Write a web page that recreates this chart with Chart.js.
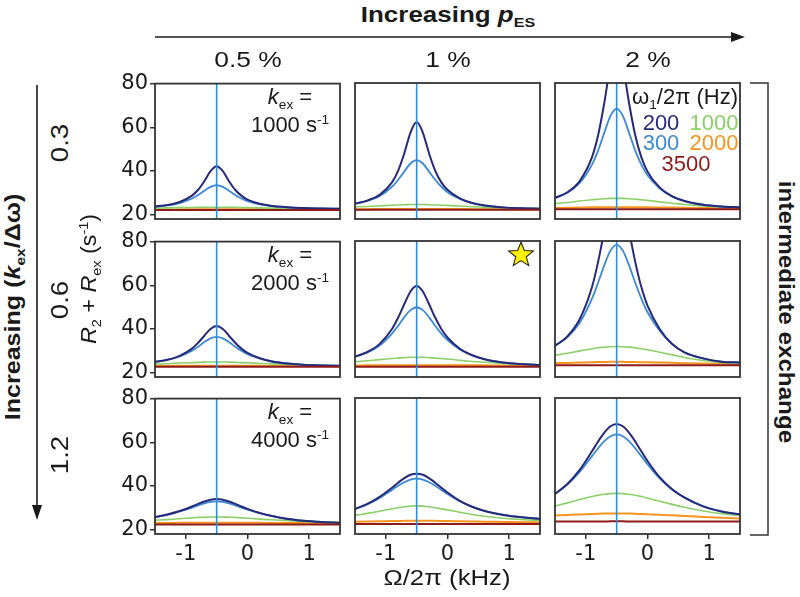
<!DOCTYPE html>
<html>
<head>
<meta charset="utf-8">
<script src="https://cdn.jsdelivr.net/npm/chart.js@4.4.1/dist/chart.umd.min.js"></script>
<style>
  body { margin: 0; background: #fff; }
  #fig { position: relative; width: 800px; height: 597px; overflow: hidden;
         font-family: "Liberation Sans", Arial, Helvetica, sans-serif; color: #1a1a1a; }
  #fig canvas { position: absolute; }
  .t { position: absolute; white-space: nowrap; font-size: 22px; line-height: 1; }
  .b { font-weight: bold; }
  sub, sup { font-size: 62%; line-height: 0; }
  svg { position: absolute; left: 0; top: 0; }
</style>
</head>
<body>
<div id="fig">
  <svg width="800" height="597">
    <line x1="155" y1="37" x2="733" y2="37" stroke="#1a1a1a" stroke-width="1.6"/>
    <polygon points="745,37 731,32 731,42" fill="#1a1a1a"/>
    <line x1="37" y1="85" x2="37" y2="506" stroke="#1a1a1a" stroke-width="1.6"/>
    <polygon points="37,520 32,505 42,505" fill="#1a1a1a"/>
    <polyline points="750,83 768,83 768,535 750,535" fill="none" stroke="#333" stroke-width="1.5"/>
    <polygon points="521,242 524.3,250.5 533.4,251 526.3,256.8 528.7,265.6 521,260.6 513.3,265.6 515.7,256.8 508.6,251 517.7,250.5"
             fill="#fff200" stroke="#222" stroke-width="1.1"/>
  </svg>
</div>
<script>
// ---------- Data ----------
const omega = [-1.5, -1.3, -1.1, -0.9, -0.8, -0.7, -0.6, -0.5, -0.4, -0.3, -0.2, -0.1, 0, 0.2, 0.4, 0.6, 0.9, 1.2, 1.5]; // kHz
const esShift = -0.5;
const yRange = [18, 80];
const xRange = [-1.5, 1.5];
const xTicks = [-1, 0, 1];
const yTicks = [20, 40, 60, 80];
const fieldsHz = ['200', '300', '1000', '2000', '3500'];
const pES = ['0.5 %', '1 %', '2 %'];
const kexOverDw = ['0.3', '0.6', '1.2'];
const kexValues = ['1000', '2000', '4000'];

// R2 + Rex (s-1): [row = kex][col = pES][point at omega]
const r200 = [
  [[23.7, 24.4, 25.8, 28.7, 31.4, 35.3, 39.9, 42.2, 39.9, 35.3, 31.4, 28.7, 26.9, 25.0, 24.0, 23.5, 23.0, 22.8, 22.7],
   [25.0, 26.4, 29.0, 34.7, 40.1, 48.0, 57.4, 62.2, 57.4, 48.0, 40.1, 34.7, 31.3, 27.4, 25.3, 24.2, 23.3, 22.9, 22.7],
   [27.6, 30.2, 35.3, 46.2, 56.3, 71.0, 88.1, 96.8, 88.1, 71.0, 56.3, 46.2, 39.6, 32.3, 28.3, 26.2, 24.5, 23.7, 23.3]],
  [[24.9, 25.9, 27.7, 31.0, 33.7, 36.9, 40.0, 41.3, 40.0, 36.9, 33.7, 31.0, 29.1, 26.6, 25.1, 24.3, 23.6, 23.3, 23.1],
   [27.3, 29.4, 33.1, 39.9, 45.1, 51.3, 57.0, 59.5, 57.0, 51.3, 45.1, 39.9, 36.0, 30.9, 27.9, 26.1, 24.6, 23.9, 23.5],
   [32.2, 36.5, 44.3, 59.0, 70.6, 84.7, 98.1, 104.0, 98.1, 84.7, 70.6, 59.0, 50.5, 39.8, 33.0, 29.2, 26.5, 25.0, 24.6]],
  [[25.8, 26.9, 28.5, 30.6, 31.8, 32.9, 33.7, 34.0, 33.7, 32.9, 31.8, 30.6, 29.5, 27.6, 26.2, 25.1, 24.1, 23.5, 23.1],
   [29.4, 31.7, 34.9, 39.1, 41.4, 43.5, 45.0, 45.5, 45.0, 43.5, 41.4, 39.1, 36.9, 33.1, 30.4, 28.5, 26.7, 25.6, 24.9],
   [36.3, 40.8, 47.2, 55.7, 60.2, 64.2, 67.1, 68.2, 67.1, 64.2, 60.2, 55.7, 51.3, 43.8, 38.4, 34.6, 30.6, 28.3, 26.9]]
];
const r300 = [
  [[23.6, 24.2, 25.3, 27.4, 29.0, 30.9, 32.7, 33.5, 32.7, 30.9, 29.0, 27.4, 26.2, 24.7, 23.9, 23.4, 23.0, 22.8, 22.7],
   [25.0, 26.3, 28.5, 32.7, 35.9, 39.7, 43.3, 44.8, 43.3, 39.7, 35.9, 32.7, 30.2, 27.2, 25.2, 24.2, 23.3, 22.9, 22.7],
   [27.6, 30.0, 34.4, 42.8, 49.3, 57.4, 65.0, 68.3, 65.0, 57.4, 49.3, 42.8, 37.9, 31.9, 28.3, 26.2, 24.5, 23.7, 23.3]],
  [[24.9, 25.8, 27.4, 30.0, 31.9, 34.0, 35.7, 36.4, 35.7, 34.0, 31.9, 30.0, 28.5, 26.5, 25.1, 24.3, 23.6, 23.3, 23.1],
   [27.3, 29.2, 32.4, 37.8, 41.4, 45.3, 48.5, 49.8, 48.5, 45.3, 41.4, 37.8, 34.8, 30.6, 27.9, 26.1, 24.6, 23.9, 23.5],
   [32.2, 36.1, 42.7, 53.7, 61.1, 69.0, 75.6, 78.2, 75.6, 69.0, 61.1, 53.7, 47.5, 39.0, 33.0, 29.2, 26.5, 25.0, 24.6]],
  [[25.8, 26.8, 28.3, 30.1, 31.1, 32.0, 32.7, 32.9, 32.7, 32.0, 31.1, 30.1, 29.1, 27.5, 26.2, 25.1, 24.1, 23.5, 23.1],
   [29.4, 31.5, 34.4, 38.1, 40.0, 41.6, 42.8, 43.2, 42.8, 41.6, 40.0, 38.1, 36.2, 32.9, 30.4, 28.6, 26.8, 25.7, 25.0],
   [36.3, 40.5, 46.3, 53.5, 57.1, 60.3, 62.6, 63.4, 62.6, 60.3, 57.1, 53.5, 49.8, 43.2, 38.2, 34.7, 30.7, 28.3, 26.9]]
];
const r1000 = [
  [[23.0, 23.1, 23.2, 23.3, 23.35, 23.4, 23.4, 23.4, 23.4, 23.4, 23.35, 23.3, 23.2, 23.1, 23.0, 22.9, 22.7, 22.6, 22.5],
   [23.5, 23.7, 24.0, 24.3, 24.4, 24.5, 24.6, 24.6, 24.6, 24.5, 24.4, 24.3, 24.2, 23.9, 23.6, 23.4, 23.1, 22.9, 22.8],
   [25.0, 25.5, 26.2, 26.8, 27.0, 27.2, 27.4, 27.4, 27.4, 27.2, 27.0, 26.8, 26.5, 25.8, 25.2, 24.6, 23.9, 23.4, 23.1]],
  [[23.9, 24.1, 24.4, 24.6, 24.7, 24.8, 24.9, 24.9, 24.9, 24.8, 24.7, 24.6, 24.5, 24.2, 24.0, 23.8, 23.5, 23.4, 23.2],
   [24.9, 25.4, 25.9, 26.4, 26.6, 26.8, 27.0, 27.0, 27.0, 26.8, 26.6, 26.4, 26.2, 25.6, 25.1, 24.7, 24.2, 23.9, 23.6],
   [27.9, 28.8, 29.9, 30.9, 31.3, 31.6, 31.8, 31.9, 31.8, 31.6, 31.3, 30.9, 30.4, 29.3, 28.1, 26.9, 25.5, 24.6, 24.1]],
  [[24.3, 24.6, 25.0, 25.4, 25.6, 25.7, 25.8, 25.8, 25.8, 25.7, 25.6, 25.4, 25.2, 24.8, 24.5, 24.2, 23.8, 23.6, 23.4],
   [26.5, 27.4, 28.4, 29.5, 30.0, 30.4, 30.7, 30.8, 30.7, 30.4, 30.0, 29.5, 29.0, 27.9, 26.9, 26.1, 25.2, 24.6, 24.2],
   [30.8, 32.2, 33.7, 35.1, 35.7, 36.1, 36.4, 36.5, 36.4, 36.1, 35.7, 35.1, 34.4, 32.9, 31.5, 30.2, 28.5, 27.3, 26.4]]
];
const r2000 = [
  [[22.4, 22.4, 22.4, 22.5, 22.5, 22.5, 22.5, 22.5, 22.5, 22.5, 22.5, 22.5, 22.5, 22.5, 22.4, 22.4, 22.4, 22.4, 22.4],
   [22.5, 22.5, 22.6, 22.6, 22.6, 22.6, 22.6, 22.6, 22.6, 22.6, 22.6, 22.6, 22.6, 22.6, 22.5, 22.5, 22.5, 22.4, 22.4],
   [23.0, 23.1, 23.2, 23.3, 23.3, 23.3, 23.3, 23.3, 23.3, 23.3, 23.3, 23.3, 23.3, 23.2, 23.2, 23.1, 23.0, 22.9, 22.9]],
  [[23.0, 23.0, 23.1, 23.1, 23.1, 23.1, 23.1, 23.1, 23.1, 23.1, 23.1, 23.1, 23.1, 23.1, 23.0, 23.0, 23.0, 23.0, 22.9],
   [23.2, 23.3, 23.3, 23.4, 23.4, 23.4, 23.4, 23.4, 23.4, 23.4, 23.4, 23.4, 23.4, 23.4, 23.3, 23.3, 23.2, 23.2, 23.1],
   [24.3, 24.4, 24.6, 24.7, 24.8, 24.8, 24.9, 24.9, 24.9, 24.8, 24.8, 24.7, 24.7, 24.6, 24.5, 24.3, 24.1, 24.0, 23.8]],
  [[23.0, 23.0, 23.1, 23.1, 23.1, 23.1, 23.1, 23.1, 23.1, 23.1, 23.1, 23.1, 23.1, 23.1, 23.0, 23.0, 23.0, 22.9, 22.9],
   [23.6, 23.7, 23.8, 23.9, 23.9, 24.0, 24.0, 24.0, 24.0, 24.0, 24.0, 23.9, 23.9, 23.8, 23.7, 23.6, 23.5, 23.4, 23.3],
   [26.4, 26.7, 26.9, 27.1, 27.2, 27.3, 27.4, 27.4, 27.4, 27.3, 27.2, 27.1, 27.0, 26.8, 26.5, 26.2, 25.8, 25.4, 25.1]]
];
const r3500 = [
  [[22.1, 22.1, 22.1, 22.1, 22.1, 22.1, 22.1, 22.1, 22.1, 22.1, 22.1, 22.1, 22.1, 22.1, 22.1, 22.1, 22.1, 22.1, 22.1],
   [22.2, 22.2, 22.2, 22.2, 22.2, 22.2, 22.2, 22.2, 22.2, 22.2, 22.2, 22.2, 22.2, 22.2, 22.2, 22.2, 22.2, 22.2, 22.2],
   [22.4, 22.4, 22.4, 22.4, 22.4, 22.4, 22.4, 22.4, 22.4, 22.4, 22.4, 22.4, 22.4, 22.4, 22.4, 22.4, 22.4, 22.4, 22.4]],
  [[22.7, 22.7, 22.7, 22.7, 22.7, 22.7, 22.7, 22.7, 22.7, 22.7, 22.7, 22.7, 22.7, 22.7, 22.7, 22.7, 22.7, 22.7, 22.7],
   [22.7, 22.7, 22.7, 22.7, 22.7, 22.7, 22.7, 22.7, 22.7, 22.7, 22.7, 22.7, 22.7, 22.7, 22.7, 22.7, 22.7, 22.7, 22.7],
   [23.3, 23.3, 23.3, 23.3, 23.3, 23.3, 23.3, 23.3, 23.3, 23.3, 23.3, 23.3, 23.3, 23.3, 23.3, 23.3, 23.3, 23.3, 23.3]],
  [[22.4, 22.4, 22.4, 22.4, 22.4, 22.4, 22.4, 22.4, 22.4, 22.4, 22.4, 22.4, 22.4, 22.4, 22.4, 22.4, 22.4, 22.4, 22.4],
   [22.6, 22.6, 22.6, 22.6, 22.6, 22.6, 22.6, 22.6, 22.6, 22.6, 22.6, 22.6, 22.6, 22.6, 22.6, 22.6, 22.6, 22.6, 22.6],
   [23.7, 23.7, 23.7, 23.7, 23.7, 23.7, 23.8, 23.8, 23.8, 23.7, 23.7, 23.7, 23.7, 23.7, 23.7, 23.7, 23.7, 23.7, 23.7]]
];

// ---------- Style / layout ----------
const FONT = '"Liberation Sans", Arial, Helvetica, sans-serif';
const TICK_FONT = '"DejaVu Sans", "Liberation Sans", Arial, sans-serif';
const INK = '#1a1a1a';
const colors = { '200': '#272a79', '300': '#3b88d4', '1000': '#8ccf68', '2000': '#f7941e', '3500': '#8e1b1b' };
const vlineColor = '#2b8fd6';
// draw order: first dataset ends up on top
const series = [
  { hz: '3500', data: r3500, width: 2 },
  { hz: '200', data: r200, width: 2 },
  { hz: '300', data: r300, width: 1.8 },
  { hz: '1000', data: r1000, width: 1.6 },
  { hz: '2000', data: r2000, width: 2 },
];
const colLeft = [155, 355, 555], rowTop = [83, 241, 398];
const PW = 185, PH = 136, ML = 50, MT = 14, MR = 6, MB = 34;

const fig = document.getElementById('fig');
// text centred on (x, y); rot = -90 / 90 for vertical text, sx stretches along the text
const $t = (html, x, y, { cls = '', rot = 0, sx = 1, size = 22, align = 'c', style = '' } = {}) => {
  const d = document.createElement('div');
  d.className = 't ' + cls; d.innerHTML = html;
  const tx = align === 'r' ? '-100%' : '-50%';
  d.style.cssText = `left:${x}px;top:${y}px;font-size:${size}px;transform-origin:${align === 'r' ? '100% 50%' : '50% 50%'};` +
    `transform:translate(${tx},-50%) rotate(${rot}deg) scaleX(${sx});${style}`;
  fig.append(d); return d;
};

const frame = {
  id: 'frame',
  afterDatasetsDraw(c) {
    const { ctx, chartArea: a } = c;
    ctx.save(); ctx.strokeStyle = '#333'; ctx.lineWidth = 1.8;
    ctx.strokeRect(a.left, a.top, a.right - a.left, a.bottom - a.top);
    ctx.restore();
  }
};

// ---------- Panels ----------
rowTop.forEach((top, r) => colLeft.forEach((left, c) => {
  const cv = document.createElement('canvas');
  cv.width = ML + PW + MR; cv.height = MT + PH + MB;
  cv.style.left = (left - ML) + 'px'; cv.style.top = (top - MT) + 'px';
  fig.append(cv);

  const pts = arr => omega.map((x, i) => ({ x, y: arr[i] }));
  const datasets = [{ data: [{ x: esShift, y: yRange[0] }, { x: esShift, y: yRange[1] }], borderColor: vlineColor, borderWidth: 1.6 }]
    .concat(series.map(s => ({ data: pts(s.data[r][c]), borderColor: colors[s.hz], borderWidth: s.width, cubicInterpolationMode: 'monotone' })));

  const showX = r === 2, showY = c === 0;
  new Chart(cv, {
    type: 'line',
    data: { datasets },
    plugins: [frame],
    options: {
      responsive: false, animation: false, events: [],
      layout: { padding: { top: MT, right: MR, left: 0, bottom: 0 } },
      elements: { point: { radius: 0 } },
      plugins: { legend: { display: false }, tooltip: { enabled: false } },
      scales: {
        x: {
          type: 'linear', min: xRange[0], max: xRange[1],
          afterBuildTicks: s => { s.ticks = xTicks.map(v => ({ value: v })); },
          afterFit: s => { s.height = MB; },
          ticks: { display: showX, autoSkip: false, maxRotation: 0, padding: 3, color: INK, font: { family: TICK_FONT, size: 21 } },
          grid: { display: showX, drawOnChartArea: false, tickLength: 5, color: '#333', lineWidth: 1.5 },
          border: { display: false }
        },
        y: {
          type: 'linear', min: yRange[0], max: yRange[1],
          afterBuildTicks: s => { s.ticks = yTicks.map(v => ({ value: v })); },
          afterFit: s => { s.width = ML; },
          ticks: { display: showY, autoSkip: false, padding: 2, color: INK, font: { family: TICK_FONT, size: 21 } },
          grid: { display: showY, drawOnChartArea: false, tickLength: 5, color: '#333', lineWidth: 1.5 },
          border: { display: false }
        }
      }
    }
  });
}));

// ---------- Text ----------
$t('Increasing <i>p</i><sub>ES</sub>', 448, 15, { cls: 'b', sx: 1.18 });
pES.forEach((p, c) => $t(p, colLeft[c] + PW / 2, 60, { sx: 1.2 }));
$t('Increasing (<i>k</i><sub>ex</sub>/Δω)', 13, 307, { cls: 'b', rot: -90, sx: 1.14 });
kexOverDw.forEach((k, r) => $t(k, 60, [143, 300, 455][r], { rot: -90, size: 24, sx: 1.15 }));
$t('<i>R</i><sub>2</sub> + <i>R</i><sub>ex</sub> (s<sup>-1</sup>)', 89, 279, { rot: -90, sx: 1.06 });
$t('Ω/2π (kHz)', 447, 578, { sx: 1.17 });
$t('intermediate exchange', 786, 312, { cls: 'b', rot: 90, sx: 1.1 });
kexValues.forEach((k, r) => {
  $t('<i>k</i><sub>ex</sub> =', 290, rowTop[r] + 14);
  $t(`${k} s<sup>-1</sup>`, 290, rowTop[r] + 42);
});
// legend (ω1/2π) in the top-right panel
$t('ω<sub>1</sub>/2π (Hz)', 738, 97, { align: 'r' });
$t(fieldsHz[0], 661, 123, { style: `color:${colors['200']}` });
$t(fieldsHz[2], 714, 123, { style: `color:${colors['1000']}` });
$t(fieldsHz[1], 661, 143, { style: `color:${colors['300']}` });
$t(fieldsHz[3], 714, 143, { style: `color:${colors['2000']}` });
$t(fieldsHz[4], 686, 164, { style: `color:${colors['3500']}` });
</script>
</body>
</html>
